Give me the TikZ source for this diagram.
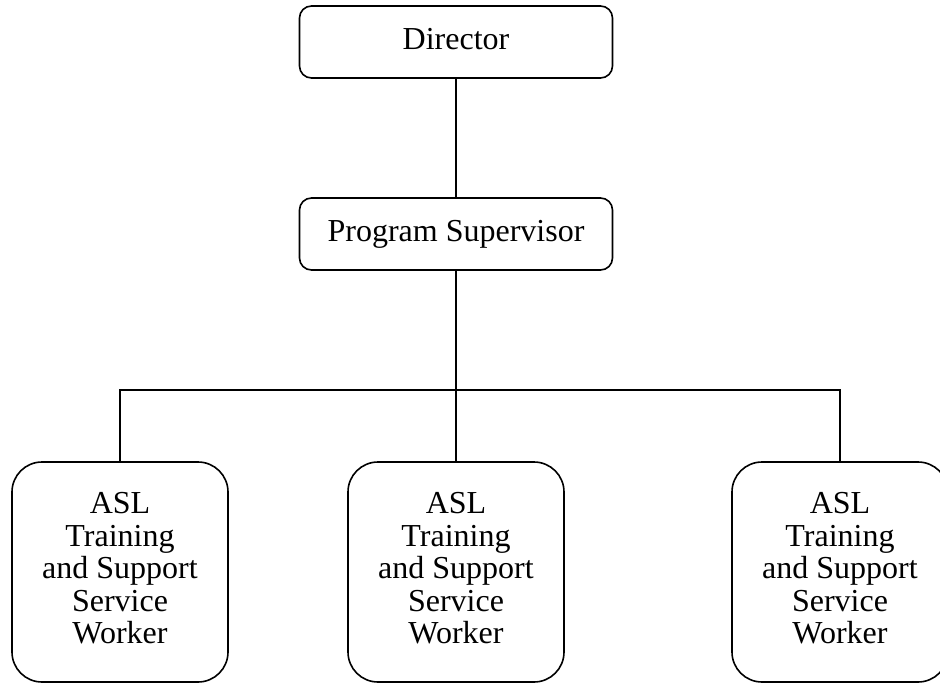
\documentclass[tikz,border=0pt]{standalone}
\usepackage{fontspec}
\setmainfont{Liberation Serif}
\begin{document}
\begin{tikzpicture}[x=1pt,y=-1pt,
  topbox/.style={draw,line width=1.6pt,rounded corners=12pt,minimum width=313pt,minimum height=72pt,inner sep=0pt,font=\fontsize{32}{32.4}\selectfont},
  workerbox/.style={draw,line width=1.6pt,rounded corners=30pt,minimum width=216pt,minimum height=220pt,inner sep=0pt,align=center,text depth=8pt,font=\fontsize{32}{32.4}\selectfont},
  conn/.style={line width=1.6pt}]
\useasboundingbox (0,0) rectangle (940,683);
\clip (0,0) rectangle (940,683);
\node[topbox,text depth=7pt] (dir) at (456,42) {Director};
\node[topbox] (ps) at (456,234) {Program Supervisor};
\node[workerbox] (w1) at (120,572) {ASL\\Training\\and Support\\Service\\Worker};
\node[workerbox] (w2) at (456,572) {ASL\\Training\\and Support\\Service\\Worker};
\node[workerbox] (w3) at (840,572) {ASL\\Training\\and Support\\Service\\Worker};
\coordinate (bus) at (456,390);
\draw[conn] (dir.south) -- (ps.south |- dir.south) -- (ps.north);
\draw[conn] (ps.south) -- (w2.north);
\draw[conn] (w1.north) -- (w1.north |- bus) -- (w3.north |- bus) -- (w3.north);
\end{tikzpicture}
\end{document}
